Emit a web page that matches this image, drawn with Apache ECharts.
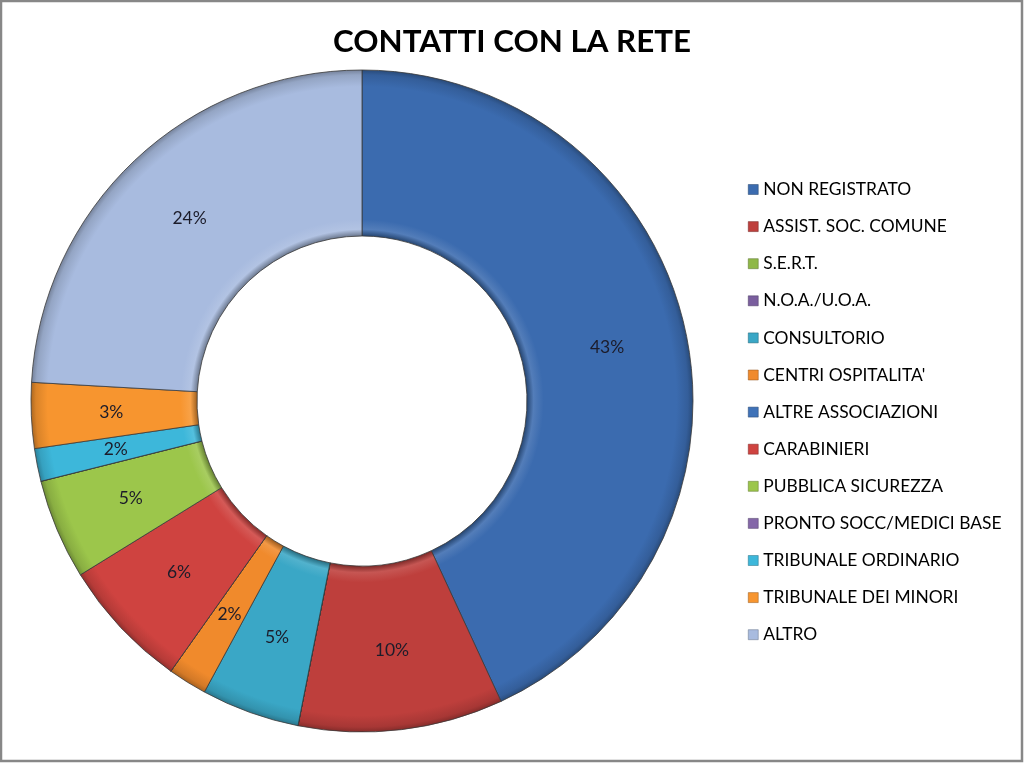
<!DOCTYPE html>
<html>
<head>
<meta charset="utf-8">
<script src="https://cdn.jsdelivr.net/npm/echarts@6/dist/echarts.min.js"></script>
<style>
html,body{margin:0;padding:0;background:#fff;}
#chart{width:1024px;height:763px;}
</style>
</head>
<body>
<div id="chart"></div>
<script>
const titleText = 'CONTATTI CON LA RETE';
const categories = [
  'NON REGISTRATO', 'ASSIST. SOC. COMUNE', 'S.E.R.T.', 'N.O.A./U.O.A.',
  'CONSULTORIO', "CENTRI OSPITALITA'", 'ALTRE ASSOCIAZIONI', 'CARABINIERI',
  'PUBBLICA SICUREZZA', 'PRONTO SOCC/MEDICI BASE', 'TRIBUNALE ORDINARIO',
  'TRIBUNALE DEI MINORI', 'ALTRO'
];
const values = [43.1, 10.0, 0, 0, 4.8, 1.9, 0, 6.4, 4.9, 0, 1.6, 3.2, 24.1];
const colors = [
  '#3B6BAF', '#BE3F3C', '#8FB847', '#7A5E9E', '#3AA7C6', '#F08A2C',
  '#3F72B8', '#CF4340', '#9CC64B', '#8467A8', '#3DB7DA', '#F7952F', '#A8BBDF'
];

const CX = 362, CY = 401, R_IN = 165, R_OUT = 331;

function shade(hex, f) {
  const n = parseInt(hex.slice(1), 16);
  let r = (n >> 16) & 255, g = (n >> 8) & 255, b = n & 255;
  if (f < 0) { r = r * (1 + f); g = g * (1 + f); b = b * (1 + f); }
  else { r = r + (255 - r) * f; g = g + (255 - g) * f; b = b + (255 - b) * f; }
  return 'rgb(' + Math.round(r) + ',' + Math.round(g) + ',' + Math.round(b) + ')';
}
function bevel(hex) {
  const k = R_IN / R_OUT;
  return new echarts.graphic.RadialGradient(CX, CY, R_OUT, [
    { offset: 0, color: shade(hex, -0.35) },
    { offset: k, color: shade(hex, -0.35) },
    { offset: k + 0.02, color: shade(hex, 0.12) },
    { offset: k + 0.05, color: hex },
    { offset: 0.95, color: hex },
    { offset: 0.985, color: shade(hex, -0.12) },
    { offset: 1, color: shade(hex, -0.3) }
  ], true);
}

const data = categories.map((c, i) => ({
  name: c,
  value: values[i],
  itemStyle: { color: bevel(colors[i]) }
}));

const chart = echarts.init(document.getElementById('chart'), null, { renderer: 'canvas' });
chart.setOption({
  animation: false,
  color: colors,
  title: {
    text: titleText,
    left: 'center',
    top: 21,
    textStyle: { fontFamily: 'Lato', fontWeight: 'bold', fontSize: 31.3, color: '#000' }
  },
  legend: {
    orient: 'vertical',
    left: 743,
    top: 176,
    icon: 'rect',
    itemWidth: 10,
    itemHeight: 10,
    itemGap: 20.1,
    data: categories.map((c, i) => ({ name: c, itemStyle: { color: colors[i], borderColor: shade(colors[i], -0.4), borderWidth: 0.5 } })),
    textStyle: { fontFamily: 'Lato', fontSize: 17.4, color: '#000', lineHeight: 17 },
    selectedMode: false
  },
  graphic: [{
    type: 'rect',
    shape: { x: 1, y: 1, width: 1021, height: 760 },
    style: { fill: 'none', stroke: '#878787', lineWidth: 2.5 },
    silent: true
  }],
  series: [{
    type: 'pie',
    center: [CX, CY],
    radius: [R_IN, R_OUT],
    startAngle: 90,
    clockwise: true,
    avoidLabelOverlap: false,
    itemStyle: { borderColor: '#3a3a3a', borderWidth: 0.8 },
    label: {
      show: true,
      position: 'inside',
      fontFamily: 'Lato',
      fontSize: 17.5,
      color: '#1c1c2a',
      formatter: p => p.value > 0 ? Math.round(p.percent) + '%' : ''
    },
    labelLine: { show: false },
    emphasis: { disabled: true },
    data: data
  }]
});
</script>
</body>
</html>
